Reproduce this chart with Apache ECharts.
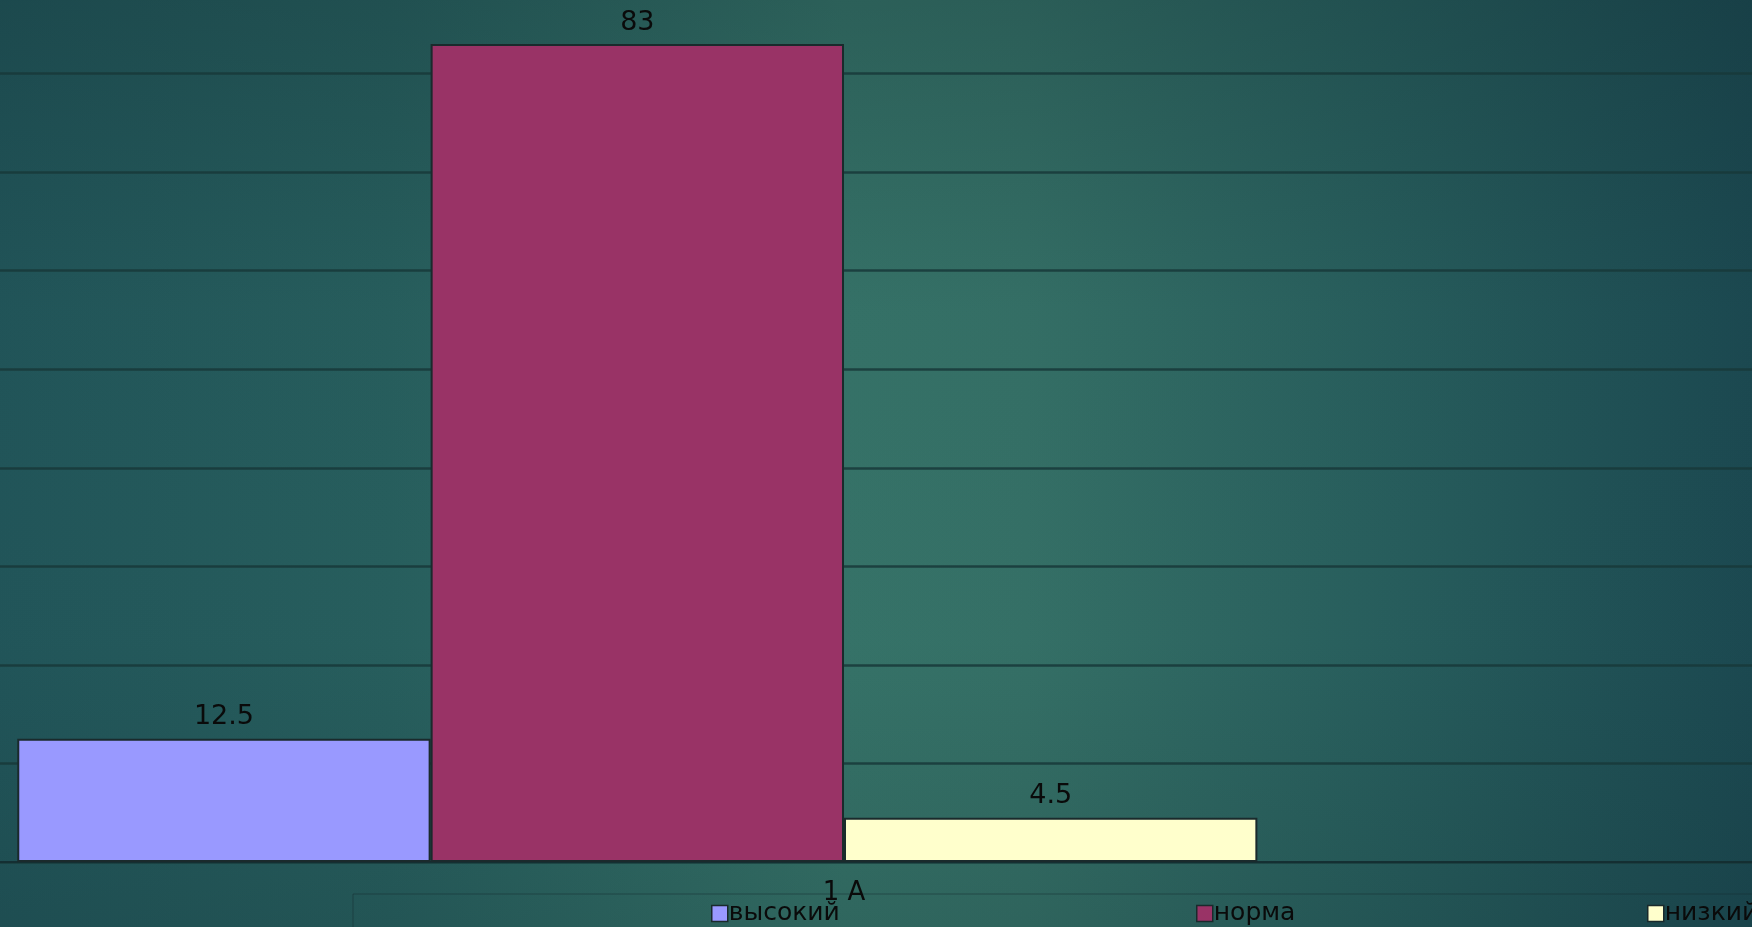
<!DOCTYPE html>
<html>
<head>
<meta charset="utf-8">
<script src="https://cdn.jsdelivr.net/npm/echarts@6/dist/echarts.min.js"></script>
<style>
html,body{margin:0;padding:0;overflow:hidden;width:1752px;height:927px;position:relative;background:#1d4d53;}
#c{position:absolute;left:-66px;top:-25px;width:1820px;height:952px;}
</style>
</head>
<body>
<div id="c"></div>
<script>
const categories = ['1 А'];
const seriesNames = ['высокий', 'норма', 'низкий'];
const highValues = [12.5];
const normValues = [83];
const lowValues = [4.5];
const emptyValues = ['-'];
const seriesColors = ['#9999FF', '#993366', '#FFFFCC'];

// page offset of the chart container (plot area runs past the page edges)
const OX = 66, OY = 25;
const chart = echarts.init(document.getElementById('c'));
const labelStyle = {show: true, position: 'top', distance: 8, color: '#0a0a0a', fontFamily: 'DejaVu Sans', fontSize: 27};
const mk = (name, data, color) => ({
  name: name, type: 'bar', data: data, barGap: '0%', barCategoryGap: '9.15%',
  itemStyle: {color: color, borderColor: '#1a2a2c', borderWidth: 2},
  label: labelStyle
});
const legendPos = [706, 1191, 1642];
chart.setOption({
  backgroundColor: {
    type: 'linear', x: 0, y: 0, x2: 1, y2: 0,
    colorStops: [
      {offset: 0, color: '#21555a'}, {offset: 0.25, color: '#28605f'},
      {offset: 0.5, color: '#37756a'}, {offset: 0.6, color: '#367268'},
      {offset: 0.8, color: '#285f5e'}, {offset: 1, color: '#1c4a52'}
    ]
  },
  animation: false,
  grid: {left: 0, right: 0, top: 0, bottom: 65, containLabel: false},
  xAxis: {
    type: 'category', data: categories,
    axisLine: {show: true, lineStyle: {color: 'rgba(20,45,48,0.85)', width: 2}},
    axisTick: {show: false},
    axisLabel: {color: '#0a0a0a', fontFamily: 'DejaVu Sans', fontSize: 26, margin: 18}
  },
  yAxis: {
    type: 'value', min: 0, max: 90, interval: 10,
    axisLabel: {show: false}, axisLine: {show: false}, axisTick: {show: false},
    splitLine: {lineStyle: {color: 'rgba(24,56,58,0.85)', width: 2.5}}
  },
  legend: seriesNames.map((n, i) => ({
    data: [n], left: legendPos[i] + OX, top: 896 + OY, itemWidth: 16, itemHeight: 16, itemGap: 0,
    icon: 'rect', itemStyle: {borderColor: '#1a2a2c', borderWidth: 1.5},
    textStyle: {color: '#0a0a0a', fontFamily: 'DejaVu Sans', fontSize: 25, padding: [0, 0, 0, -4]}
  })),
  graphic: [
    {type: 'rect', shape: {x: 0, y: 0, width: 1820, height: 952}, silent: true, z: -10,
      style: {fill: {type: 'linear', x: 0, y: 0, x2: 0, y2: 1, colorStops: [
        {offset: 0, color: 'rgba(12,35,40,0.28)'}, {offset: 0.35, color: 'rgba(12,35,40,0.05)'},
        {offset: 0.7, color: 'rgba(12,35,40,0.03)'}, {offset: 1, color: 'rgba(12,35,40,0.18)'}]}}},
    {type: 'rect', shape: {x: 353 + OX, y: 894 + OY, width: 1500, height: 100},
      style: {fill: 'rgba(0,0,0,0)', stroke: 'rgba(20,45,48,0.5)', lineWidth: 1}, z: -1}
  ],
  series: [
    mk(seriesNames[0], highValues, seriesColors[0]),
    mk(seriesNames[1], normValues, seriesColors[1]),
    mk(seriesNames[2], lowValues, seriesColors[2]),
    {name: '', type: 'bar', data: emptyValues, barGap: '0%', barCategoryGap: '9.15%'}
  ]
});
</script>
</body>
</html>
